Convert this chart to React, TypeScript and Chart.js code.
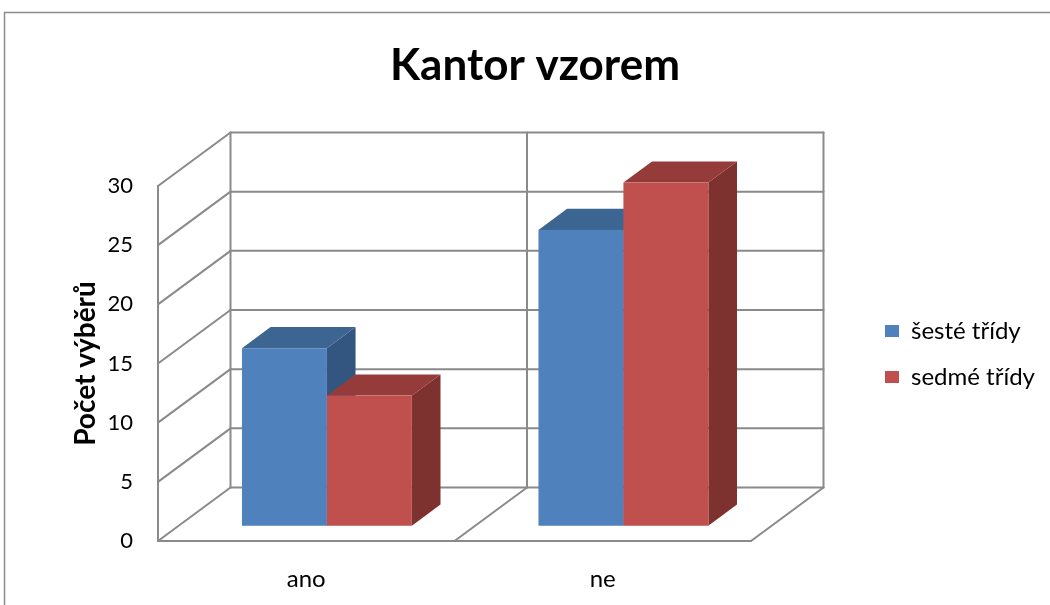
import React, { useEffect, useRef } from "react";
import { Chart, registerables } from "chart.js";

Chart.register(...registerables);

// ---- data ----
const categories = ["ano", "ne"];
const seriesNames = ["šesté třídy", "sedmé třídy"];
const sesteTridy = [15, 25];
const sedmeTridy = [11, 29];
const yTicks = [0, 5, 10, 15, 20, 25, 30];
const chartTitle = "Kantor vzorem";
const yAxisTitle = "Počet výběrů";

// ---- layout / style ----
const W = 1050;
const H = 605;
const FONT = "Lato";
const AREA_RIGHT = 751;
const DEPTH = { x: 72.5, y: -53.5 };
const BAR_FRONT = 0.285;
const BAR_DEPTH = 0.395;
const GRID = "#8a8a8a";
const FACES = [
  { front: "#4F81BD", top: "#3D6592", side: "#335680" },
  { front: "#C0504D", top: "#953B39", side: "#7D3230" },
];
const LEGEND_FONT = 24;
const LEGEND_PAD = 22;
const LEGEND_BOX_X = 885;
const LEGEND_FIRST_Y = 331;

const threeD = {
  id: "threeD",
  beforeDraw(chart: any) {
    const ctx = chart.ctx;
    ctx.save();
    ctx.fillStyle = "#ffffff";
    ctx.fillRect(0, 0, W, H);
    ctx.strokeStyle = "#8c8c8c";
    ctx.lineWidth = 1.5;
    ctx.strokeRect(4.5, 12.5, 1300, 900);
    ctx.restore();
  },
  afterLayout(chart: any) {
    const lg = chart.legend;
    if (!lg) return;
    const colH = seriesNames.length * (LEGEND_FONT + LEGEND_PAD);
    const curFirst = lg.top + (LEGEND_PAD + lg.height - colH) / 2 + LEGEND_FONT / 2;
    const dy = LEGEND_FIRST_Y - curFirst;
    const dx = LEGEND_BOX_X - LEGEND_PAD - lg.left;
    lg.left += dx;
    lg.right += dx;
    lg.top += dy;
    lg.bottom += dy;
  },
  beforeDatasetsDraw(chart: any) {
    const ctx = chart.ctx;
    const xs = chart.scales.x;
    const ys = chart.scales.y;
    const L = chart.chartArea.left;
    const R = chart.chartArea.right;
    const y0 = ys.getPixelForValue(0);
    const yT = ys.getPixelForValue(yTicks[yTicks.length - 1]);
    const line = (a: number, b: number, c: number, d: number) => {
      ctx.beginPath();
      ctx.moveTo(a, b);
      ctx.lineTo(c, d);
      ctx.stroke();
    };
    ctx.save();
    ctx.strokeStyle = GRID;
    ctx.lineWidth = 2;
    ctx.lineCap = "round";
    // back wall horizontal + left wall diagonals
    yTicks.forEach((v) => {
      const py = ys.getPixelForValue(v);
      line(L + DEPTH.x, py + DEPTH.y, R + DEPTH.x, py + DEPTH.y);
      line(L, py, L + DEPTH.x, py + DEPTH.y);
    });
    // back wall verticals at category boundaries
    for (let k = 0; k <= categories.length; k++) {
      const px = xs.getPixelForValue(k - 0.5);
      line(px + DEPTH.x, yT + DEPTH.y, px + DEPTH.x, y0 + DEPTH.y);
    }
    // left wall front edge
    line(L, yT, L, y0);
    // floor front edge and dividers
    line(L, y0, R, y0);
    for (let k = 1; k <= categories.length; k++) {
      const px = xs.getPixelForValue(k - 0.5);
      line(px, y0, px + DEPTH.x, y0 + DEPTH.y);
    }
    ctx.restore();

    // 3D bars
    const fx = DEPTH.x * BAR_FRONT;
    const fy = DEPTH.y * BAR_FRONT;
    const dx = DEPTH.x * BAR_DEPTH;
    const dy = DEPTH.y * BAR_DEPTH;
    const metas = chart.data.datasets.map((_: any, i: number) => chart.getDatasetMeta(i));
    ctx.save();
    for (let j = 0; j < categories.length; j++) {
      metas.forEach((meta: any, i: number) => {
        const el = meta.data[j];
        if (!el) return;
        const p = el.getProps(["x", "y", "base", "width"], true);
        const x0 = p.x - p.width / 2 + fx;
        const x1 = p.x + p.width / 2 + fx;
        const yt = Math.min(p.y, p.base) + fy;
        const yb = Math.max(p.y, p.base) + fy;
        const c = FACES[i];
        // side
        ctx.fillStyle = c.side;
        ctx.beginPath();
        ctx.moveTo(x1, yb);
        ctx.lineTo(x1, yt);
        ctx.lineTo(x1 + dx, yt + dy);
        ctx.lineTo(x1 + dx, yb + dy);
        ctx.closePath();
        ctx.fill();
        // top
        ctx.fillStyle = c.top;
        ctx.beginPath();
        ctx.moveTo(x0, yt);
        ctx.lineTo(x1, yt);
        ctx.lineTo(x1 + dx, yt + dy);
        ctx.lineTo(x0 + dx, yt + dy);
        ctx.closePath();
        ctx.fill();
        // front
        ctx.fillStyle = c.front;
        ctx.fillRect(x0, yt, x1 - x0, yb - yt);
      });
    }
    ctx.restore();
    return false;
  },
};

export default function App() {
  const ref = useRef<HTMLCanvasElement>(null);
  useEffect(() => {
    const canvas = ref.current;
    if (!canvas) return;
    const chart = new Chart(canvas, {
      type: "bar",
      data: {
        labels: categories,
        datasets: [
          {
            label: seriesNames[0],
            data: sesteTridy,
            backgroundColor: FACES[0].front,
            borderWidth: 0,
            xAxisID: "x",
            yAxisID: "y",
          },
          {
            label: seriesNames[1],
            data: sedmeTridy,
            backgroundColor: FACES[1].front,
            borderWidth: 0,
            xAxisID: "x",
            yAxisID: "y",
          },
        ],
      },
      options: {
        responsive: false,
        animation: false,
        devicePixelRatio: 1,
        layout: { padding: { left: 20, right: 0, top: 0, bottom: 0 } },
        datasets: { bar: { barPercentage: 1, categoryPercentage: 0.573 } },
        plugins: {
          title: {
            display: true,
            text: chartTitle,
            color: "#000",
            font: { family: FONT, size: 44, weight: "bold" },
            padding: { top: 39.6, bottom: 93.6 },
          },
          legend: {
            display: true,
            position: "chartArea",
            labels: {
              color: "#000",
              font: { family: FONT, size: LEGEND_FONT },
              boxWidth: 14,
              boxHeight: 12,
              padding: LEGEND_PAD,
            },
          },
          tooltip: { enabled: false },
        },
        scales: {
          x: {
            type: "category",
            position: "bottom",
            offset: true,
            grid: { display: false, drawTicks: false },
            border: { display: false },
            ticks: { color: "#000", font: { family: FONT, size: 24 }, padding: 24 },
            afterFit: (s: any) => {
              s.height = 64;
            },
          },
          y: {
            type: "linear",
            position: "left",
            min: 0,
            max: 30,
            grid: { display: false, drawTicks: false },
            border: { display: false },
            ticks: { color: "#000", font: { family: FONT, size: 22 }, padding: 25 },
            afterBuildTicks: (s: any) => {
              s.ticks = yTicks.map((v) => ({ value: v }));
            },
            title: {
              display: true,
              text: yAxisTitle,
              color: "#000",
              font: { family: FONT, size: 28, weight: "bold" },
              padding: { top: 49.2, bottom: 0 },
            },
            afterFit: (s: any) => {
              s.width = 138;
            },
          },
          gap: {
            type: "linear",
            position: "right",
            display: true,
            grid: { display: false, drawTicks: false },
            border: { display: false },
            ticks: { display: false },
            afterFit: (s: any) => {
              s.width = W - AREA_RIGHT;
            },
          },
        },
      },
      plugins: [threeD],
    } as any);
    return () => chart.destroy();
  }, []);
  return (
    <canvas
      ref={ref}
      width={W}
      height={H}
      style={{ position: "fixed", left: 0, top: 0, width: W + "px", height: H + "px", display: "block", background: "#fff" }}
    />
  );
}
